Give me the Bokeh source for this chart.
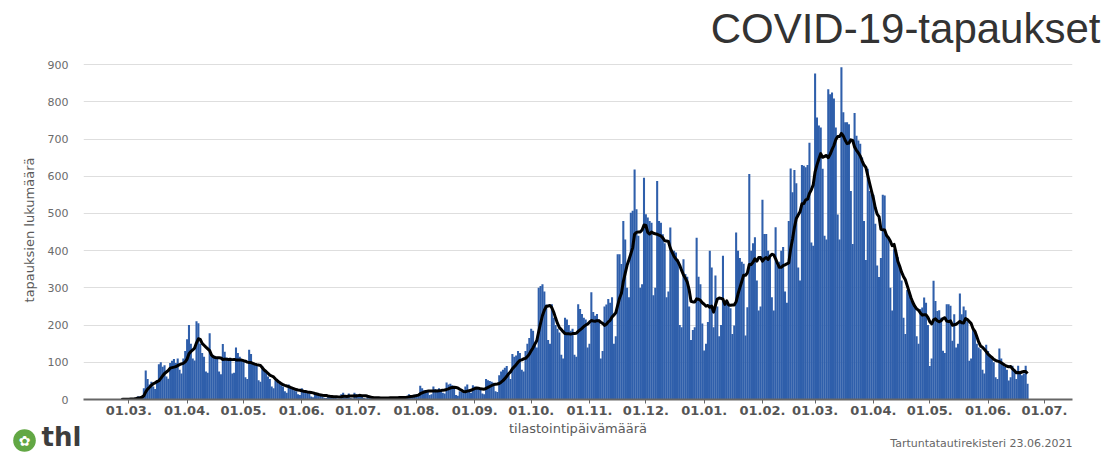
import pandas as pd
from bokeh.plotting import figure
from bokeh.models import Range1d, FixedTicker, ColumnDataSource
from bokeh.core.properties import value
from bokeh.embed import file_html
from bokeh.resources import INLINE

# ---- daily case counts, by month ----
feb20 = [0, 1, 1, 2]  # from 26.02.2020
mar20 = [1, 2, 3, 4, 6, 9, 8, 10, 30, 78, 55, 40, 48, 35, 28, 52, 95, 100, 88, 92, 62,
         56, 98, 104, 109, 98, 110, 80, 70, 110, 130]
apr20 = [162, 200, 150, 110, 105, 210, 205, 150, 125, 115, 75, 72, 178, 120, 118, 112,
         110, 75, 68, 149, 128, 113, 110, 112, 70, 72, 140, 125, 115, 108]
may20 = [100, 60, 55, 134, 122, 100, 95, 90, 52, 48, 90, 80, 72, 62, 55, 35, 30, 51, 48,
         42, 38, 35, 22, 18, 40, 32, 28, 25, 22, 14, 12]
jun20 = [30, 25, 22, 18, 16, 8, 6, 18, 15, 12, 11, 9, 5, 4, 10, 9, 8, 7, 9, 3, 3, 14, 18,
         6, 5, 16, 4, 3, 18, 15]
jul20 = [12, 10, 8, 4, 3, 8, 6, 5, 4, 5, 2, 2, 6, 5, 4, 6, 5, 3, 2, 7, 6, 5, 8, 6, 3, 4,
         10, 14, 12, 11, 13]
aug20 = [10, 12, 37, 30, 25, 24, 20, 12, 14, 35, 28, 26, 30, 25, 18, 16, 46, 40, 42, 38,
         30, 12, 10, 22, 20, 18, 35, 40, 20, 18, 38]
sep20 = [35, 32, 30, 28, 16, 14, 55, 52, 50, 48, 45, 22, 20, 65, 75, 80, 85, 90, 70, 55,
         122, 115, 118, 130, 125, 80, 75, 130, 150, 165]
oct20 = [190, 185, 150, 140, 300, 305, 310, 290, 255, 160, 150, 256, 220, 200, 190, 180,
         120, 110, 220, 215, 200, 185, 190, 120, 115, 256, 243, 230, 220, 215, 140]
nov20 = [150, 288, 235, 225, 230, 215, 110, 130, 250, 255, 270, 260, 275, 150, 170, 390,
         390, 364, 480, 430, 300, 275, 502, 507, 618, 511, 440, 300, 310, 596]
dec20 = [498, 489, 480, 475, 280, 300, 587, 480, 475, 444, 420, 275, 290, 462, 400, 400,
         395, 377, 200, 194, 377, 337, 330, 250, 160, 187, 194, 435, 330, 310, 204]
jan21 = [132, 150, 208, 400, 355, 194, 333, 250, 170, 200, 386, 257, 260, 255, 245, 176,
         199, 449, 400, 380, 370, 365, 172, 248, 606, 400, 420, 436, 320, 239, 250]
feb21 = [537, 445, 445, 400, 380, 275, 239, 463, 360, 370, 400, 410, 290, 260, 480, 621,
         557, 617, 581, 355, 320, 630, 628, 624, 630, 690, 422, 413]
mar21 = [876, 758, 736, 731, 620, 440, 430, 834, 820, 825, 809, 731, 497, 430, 893, 772,
         745, 745, 740, 560, 418, 770, 709, 696, 687, 650, 480, 375, 620, 560, 550]
apr21 = [550, 472, 360, 329, 380, 550, 548, 445, 431, 300, 239, 404, 400, 382, 350, 320,
         220, 176, 294, 288, 267, 260, 250, 170, 150, 243, 247, 274, 260, 200]
may21 = [90, 110, 319, 265, 238, 240, 220, 131, 125, 256, 256, 252, 158, 229, 140, 150,
         285, 229, 250, 240, 210, 104, 110, 189, 180, 150, 140, 135, 80, 70, 147]
jun21 = [130, 120, 110, 100, 60, 55, 137, 110, 95, 88, 80, 51, 60, 91, 80, 55, 91, 75,
         65, 70, 91, 42]

tick_labels = ["01.03.", "01.04.", "01.05.", "01.06.", "01.07.", "01.08.", "01.09.",
               "01.10.", "01.11.", "01.12.", "01.01.", "01.02.", "01.03.", "01.04.",
               "01.05.", "01.06.", "01.07."]
y_ticks = [0, 100, 200, 300, 400, 500, 600, 700, 800, 900]

title_text = "COVID-19-tapaukset"
y_label = "tapauksien lukumäärä"
x_label = "tilastointipäivämäärä"
source_text = "Tartuntatautirekisteri 23.06.2021"
logo_text = "thl"

BAR_COLOR = "#2f5fab"
LOGO_GREEN = "#62a744"

# ---- data assembly ----
cases = (feb20 + mar20 + apr20 + may20 + jun20 + jul20 + aug20 + sep20 + oct20 + nov20
         + dec20 + jan21 + feb21 + mar21 + apr21 + may21 + jun21)
dates = pd.date_range("2020-02-26", periods=len(cases), freq="D")
avg7 = pd.Series(cases, dtype=float).rolling(7, min_periods=1).mean()
src = ColumnDataSource(dict(date=dates, cases=cases, avg=avg7.to_numpy()))

tick_dates = pd.date_range("2020-03-01", periods=len(tick_labels), freq="MS")
tick_ms = [int(t.value // 10**6) for t in tick_dates]

DAY = 86400000
x0 = (pd.Timestamp("2020-03-01") - pd.Timedelta(days=24.1)).value / 1e6
x1 = x0 + 526 * DAY
Y_TOP = 911

# layout geometry (pixels)
W, H = 1117, 452
F_LEFT, F_RIGHT, F_TOP, F_BOTTOM = 83, 1072, 60, 399


def px_x(px):
    return x0 + (px - F_LEFT) / (F_RIGHT - F_LEFT) * (x1 - x0)


def px_y(py):
    return (F_BOTTOM - py) / (F_BOTTOM - F_TOP) * Y_TOP


p = figure(width=W, height=H, x_axis_type="datetime",
           x_range=Range1d(x0, x1), y_range=Range1d(0, Y_TOP),
           output_backend="svg", toolbar_location=None,
           min_border_left=F_LEFT, min_border_right=W - F_RIGHT,
           min_border_top=F_TOP, min_border_bottom=H - F_BOTTOM)
p.outline_line_color = None

p.vbar(x="date", top="cases", width=1.1 * DAY, source=src,
       fill_color=BAR_COLOR, line_color=None)
p.line(x="date", y="avg", source=src, line_color="black", line_width=3,
       line_join="round")

p.xgrid.visible = False
p.ygrid.grid_line_color = "#dedede"
p.ygrid.grid_line_width = 1

xa = p.xaxis[0]
xa.ticker = FixedTicker(ticks=tick_ms)
xa.major_label_overrides = {ms: lab for ms, lab in zip(tick_ms, tick_labels)}
xa.major_label_text_font = "DejaVu Sans"
xa.major_label_text_font_style = "bold"
xa.major_label_text_font_size = "13px"
xa.major_label_text_color = "#555555"
xa.major_label_standoff = 2
xa.axis_line_color = "#666666"
xa.axis_line_width = 2
xa.major_tick_line_color = "#666666"
xa.major_tick_line_width = 1
xa.major_tick_in = 0
xa.major_tick_out = 4
xa.minor_tick_line_color = None
xa.axis_label = x_label
xa.axis_label_text_font = "DejaVu Sans"
xa.axis_label_text_font_style = "normal"
xa.axis_label_text_font_size = "13px"
xa.axis_label_text_color = "#5a5a5a"
xa.axis_label_standoff = 3

ya = p.yaxis[0]
ya.ticker = FixedTicker(ticks=y_ticks)
ya.major_label_text_font = "DejaVu Sans"
ya.major_label_text_font_size = "11px"
ya.major_label_text_color = "#6b6b6b"
ya.major_label_standoff = 9
ya.axis_line_color = None
ya.major_tick_line_color = None
ya.minor_tick_line_color = None
ya.axis_label = y_label
ya.axis_label_text_font = "DejaVu Sans"
ya.axis_label_text_font_style = "normal"
ya.axis_label_text_font_size = "13px"
ya.axis_label_text_color = "#5a5a5a"
ya.axis_label_standoff = 8

# ---- title, source note and logo, drawn at overlay level (outside the frame) ----
p.text(x=[px_x(1100)], y=[px_y(4)], text=[title_text], text_align="right",
       text_baseline="top", text_font=value("Liberation Sans"),
       text_font_size="42px", text_color="#333333", level="overlay")
p.text(x=[px_x(1072)], y=[px_y(443)], text=[source_text], text_align="right",
       text_baseline="middle", text_font=value("DejaVu Sans"),
       text_font_size="11px", text_color="#666666", level="overlay")
p.text(x=[px_x(24)], y=[px_y(440)], text=["\u273f"], text_align="center",
       text_baseline="middle", text_font=value("DejaVu Sans"),
       text_font_size="14px", text_color="white", level="overlay",
       background_fill_color=LOGO_GREEN, outline_shape="circle", padding=1)
p.text(x=[px_x(41)], y=[px_y(421)], text=[logo_text], text_align="left",
       text_baseline="top", text_font=value("DejaVu Sans"),
       text_font_style="bold", text_font_size="26px", text_color="#3d3d3d",
       level="overlay")

open("out.html", "w").write(file_html(p, INLINE))
